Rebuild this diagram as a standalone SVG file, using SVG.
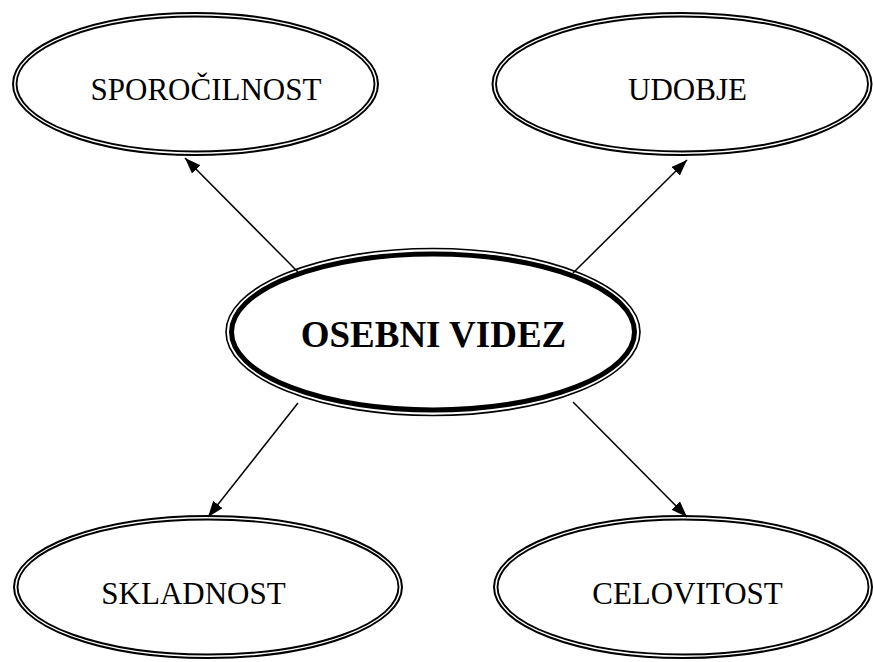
<svg xmlns="http://www.w3.org/2000/svg" width="873" height="662" viewBox="0 0 873 662">
<style>
.o{fill:#fff;stroke:#000;stroke-width:2}
.i{fill:none;stroke:#000;stroke-width:1.9}
.thin{fill:#fff;stroke:#000;stroke-width:1.6}
.thick{fill:none;stroke:#000;stroke-width:5}
.t{font-family:"Liberation Serif","Times New Roman",serif;font-size:31px;fill:#000;text-anchor:middle}
.b{font-family:"Liberation Serif","Times New Roman",serif;font-size:37px;font-weight:bold;fill:#000;text-anchor:middle}
.c{stroke:#000;stroke-width:1.5;fill:none;marker-end:url(#ah)}
</style>
<defs>
<marker id="ah" markerUnits="userSpaceOnUse" markerWidth="17" markerHeight="13" refX="16" refY="6" orient="auto">
<path d="M0,0 L16,6 L0,12 z" fill="#000"/>
</marker>
</defs>
<rect width="873" height="662" fill="#fff"/>
<g id="n-sporocilnost">
<ellipse class="o" cx="195.5" cy="84" rx="182.5" ry="71"/>
<ellipse class="i" cx="195.5" cy="84" rx="179" ry="67.5"/>
<text class="t" x="206" y="100">SPOROČILNOST</text>
</g>
<g id="n-udobje">
<ellipse class="o" cx="682" cy="84" rx="189.5" ry="71"/>
<ellipse class="i" cx="682" cy="84" rx="186" ry="67.5"/>
<text class="t" x="687.5" y="100">UDOBJE</text>
</g>
<g id="n-skladnost">
<ellipse class="o" cx="208" cy="587" rx="194" ry="71"/>
<ellipse class="i" cx="208" cy="587" rx="190.5" ry="67.5"/>
<text class="t" x="193.5" y="604">SKLADNOST</text>
</g>
<g id="n-celovitost">
<ellipse class="o" cx="683" cy="587" rx="189" ry="71"/>
<ellipse class="i" cx="683" cy="587" rx="185.5" ry="67.5"/>
<text class="t" x="687.5" y="604">CELOVITOST</text>
</g>
<g id="n-osebni-videz">
<ellipse class="thin" cx="433" cy="332" rx="207" ry="83.5"/>
<ellipse class="thick" cx="433" cy="332" rx="201.5" ry="78"/>
<text class="b" x="433.5" y="347">OSEBNI VIDEZ</text>
</g>
<g id="connectors">
<line class="c" x1="298" y1="272" x2="185" y2="158"/>
<line class="c" x1="573" y1="273" x2="687" y2="160"/>
<line class="c" x1="298" y1="403" x2="208" y2="517"/>
<line class="c" x1="573" y1="402" x2="687" y2="517"/>
</g>
</svg>
